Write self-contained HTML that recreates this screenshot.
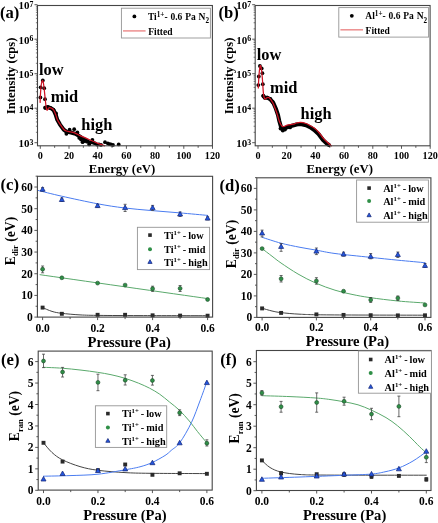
<!DOCTYPE html>
<html><head><meta charset="utf-8"><style>
html,body{margin:0;padding:0;background:#fff;width:438px;height:523px;overflow:hidden;}
svg{display:block;filter:blur(0.35px);}
text{font-family:"Liberation Serif",serif;font-weight:bold;}
</style></head><body>
<svg width="438" height="523" viewBox="0 0 438 523" font-family="Liberation Serif" font-weight="bold" fill="#000">
<line x1="40.3" y1="145.8" x2="40.3" y2="148.8" stroke="#454545" stroke-width="0.9" />
<line x1="54.65" y1="145.8" x2="54.65" y2="147.8" stroke="#454545" stroke-width="0.9" />
<line x1="69" y1="145.8" x2="69" y2="148.8" stroke="#454545" stroke-width="0.9" />
<line x1="83.35" y1="145.8" x2="83.35" y2="147.8" stroke="#454545" stroke-width="0.9" />
<line x1="97.7" y1="145.8" x2="97.7" y2="148.8" stroke="#454545" stroke-width="0.9" />
<line x1="112.05" y1="145.8" x2="112.05" y2="147.8" stroke="#454545" stroke-width="0.9" />
<line x1="126.4" y1="145.8" x2="126.4" y2="148.8" stroke="#454545" stroke-width="0.9" />
<line x1="140.75" y1="145.8" x2="140.75" y2="147.8" stroke="#454545" stroke-width="0.9" />
<line x1="155.1" y1="145.8" x2="155.1" y2="148.8" stroke="#454545" stroke-width="0.9" />
<line x1="169.45" y1="145.8" x2="169.45" y2="147.8" stroke="#454545" stroke-width="0.9" />
<line x1="183.8" y1="145.8" x2="183.8" y2="148.8" stroke="#454545" stroke-width="0.9" />
<line x1="198.15" y1="145.8" x2="198.15" y2="147.8" stroke="#454545" stroke-width="0.9" />
<line x1="212.5" y1="145.8" x2="212.5" y2="148.8" stroke="#454545" stroke-width="0.9" />
<line x1="37.5" y1="142.7" x2="34.5" y2="142.7" stroke="#454545" stroke-width="0.9" />
<line x1="37.5" y1="132.31" x2="35.9" y2="132.31" stroke="#454545" stroke-width="0.7" />
<line x1="37.5" y1="126.24" x2="35.9" y2="126.24" stroke="#454545" stroke-width="0.7" />
<line x1="37.5" y1="121.93" x2="35.9" y2="121.93" stroke="#454545" stroke-width="0.7" />
<line x1="37.5" y1="118.59" x2="35.9" y2="118.59" stroke="#454545" stroke-width="0.7" />
<line x1="37.5" y1="115.85" x2="35.9" y2="115.85" stroke="#454545" stroke-width="0.7" />
<line x1="37.5" y1="113.54" x2="35.9" y2="113.54" stroke="#454545" stroke-width="0.7" />
<line x1="37.5" y1="111.54" x2="35.9" y2="111.54" stroke="#454545" stroke-width="0.7" />
<line x1="37.5" y1="109.78" x2="35.9" y2="109.78" stroke="#454545" stroke-width="0.7" />
<line x1="37.5" y1="108.2" x2="34.5" y2="108.2" stroke="#454545" stroke-width="0.9" />
<line x1="37.5" y1="97.81" x2="35.9" y2="97.81" stroke="#454545" stroke-width="0.7" />
<line x1="37.5" y1="91.74" x2="35.9" y2="91.74" stroke="#454545" stroke-width="0.7" />
<line x1="37.5" y1="87.43" x2="35.9" y2="87.43" stroke="#454545" stroke-width="0.7" />
<line x1="37.5" y1="84.09" x2="35.9" y2="84.09" stroke="#454545" stroke-width="0.7" />
<line x1="37.5" y1="81.35" x2="35.9" y2="81.35" stroke="#454545" stroke-width="0.7" />
<line x1="37.5" y1="79.04" x2="35.9" y2="79.04" stroke="#454545" stroke-width="0.7" />
<line x1="37.5" y1="77.04" x2="35.9" y2="77.04" stroke="#454545" stroke-width="0.7" />
<line x1="37.5" y1="75.28" x2="35.9" y2="75.28" stroke="#454545" stroke-width="0.7" />
<line x1="37.5" y1="73.7" x2="34.5" y2="73.7" stroke="#454545" stroke-width="0.9" />
<line x1="37.5" y1="63.31" x2="35.9" y2="63.31" stroke="#454545" stroke-width="0.7" />
<line x1="37.5" y1="57.24" x2="35.9" y2="57.24" stroke="#454545" stroke-width="0.7" />
<line x1="37.5" y1="52.93" x2="35.9" y2="52.93" stroke="#454545" stroke-width="0.7" />
<line x1="37.5" y1="49.59" x2="35.9" y2="49.59" stroke="#454545" stroke-width="0.7" />
<line x1="37.5" y1="46.85" x2="35.9" y2="46.85" stroke="#454545" stroke-width="0.7" />
<line x1="37.5" y1="44.54" x2="35.9" y2="44.54" stroke="#454545" stroke-width="0.7" />
<line x1="37.5" y1="42.54" x2="35.9" y2="42.54" stroke="#454545" stroke-width="0.7" />
<line x1="37.5" y1="40.78" x2="35.9" y2="40.78" stroke="#454545" stroke-width="0.7" />
<line x1="37.5" y1="39.2" x2="34.5" y2="39.2" stroke="#454545" stroke-width="0.9" />
<line x1="37.5" y1="28.81" x2="35.9" y2="28.81" stroke="#454545" stroke-width="0.7" />
<line x1="37.5" y1="22.74" x2="35.9" y2="22.74" stroke="#454545" stroke-width="0.7" />
<line x1="37.5" y1="18.43" x2="35.9" y2="18.43" stroke="#454545" stroke-width="0.7" />
<line x1="37.5" y1="15.09" x2="35.9" y2="15.09" stroke="#454545" stroke-width="0.7" />
<line x1="37.5" y1="12.35" x2="35.9" y2="12.35" stroke="#454545" stroke-width="0.7" />
<line x1="37.5" y1="10.04" x2="35.9" y2="10.04" stroke="#454545" stroke-width="0.7" />
<line x1="37.5" y1="8.04" x2="35.9" y2="8.04" stroke="#454545" stroke-width="0.7" />
<line x1="37.5" y1="6.28" x2="35.9" y2="6.28" stroke="#454545" stroke-width="0.7" />
<line x1="37.5" y1="4.7" x2="34.5" y2="4.7" stroke="#454545" stroke-width="0.9" />
<polyline points="45.3,107.8 47.5,107.3 49.7,107.8 51.5,108.5 53.7,110.3 55.9,115.3 57.3,119.8 60,124.6 63.7,129.6 66.4,131.6 71,132.5 75.6,133.8 80.1,136.6 84,139.5 88,141.5" fill="none" stroke="#000" stroke-width="4.0" stroke-linejoin="round" stroke-linecap="round" />
<circle cx="42.8" cy="80.5" r="1.9" fill="#000"/>
<circle cx="40.6" cy="87.3" r="1.9" fill="#000"/>
<circle cx="44.2" cy="88.2" r="1.9" fill="#000"/>
<circle cx="40.4" cy="97.4" r="1.9" fill="#000"/>
<circle cx="45" cy="99.2" r="1.9" fill="#000"/>
<circle cx="45.3" cy="107.7" r="1.9" fill="#000"/>
<circle cx="47.9" cy="107" r="1.9" fill="#000"/>
<circle cx="50.6" cy="107.9" r="1.9" fill="#000"/>
<circle cx="53.4" cy="109.7" r="1.9" fill="#000"/>
<circle cx="56.1" cy="113.4" r="1.9" fill="#000"/>
<circle cx="69.6" cy="129.7" r="1.9" fill="#000"/>
<circle cx="74.2" cy="129.2" r="1.9" fill="#000"/>
<circle cx="66.4" cy="133.8" r="1.9" fill="#000"/>
<circle cx="77.4" cy="132.4" r="1.9" fill="#000"/>
<circle cx="79.3" cy="137.9" r="1.9" fill="#000"/>
<circle cx="81" cy="139.5" r="1.9" fill="#000"/>
<circle cx="82.6" cy="142.2" r="1.9" fill="#000"/>
<circle cx="84.5" cy="141" r="1.9" fill="#000"/>
<circle cx="87" cy="141.7" r="1.9" fill="#000"/>
<circle cx="89.2" cy="144.4" r="1.9" fill="#000"/>
<circle cx="90.5" cy="142.5" r="1.9" fill="#000"/>
<circle cx="92.4" cy="140" r="1.9" fill="#000"/>
<circle cx="93.5" cy="142.8" r="1.9" fill="#000"/>
<circle cx="95.2" cy="143.3" r="1.9" fill="#000"/>
<circle cx="97" cy="144.6" r="1.9" fill="#000"/>
<circle cx="99" cy="144.4" r="1.9" fill="#000"/>
<circle cx="101" cy="144.9" r="1.9" fill="#000"/>
<circle cx="105" cy="142.2" r="1.9" fill="#000"/>
<circle cx="107.8" cy="143.3" r="1.9" fill="#000"/>
<circle cx="109.5" cy="144.2" r="1.9" fill="#000"/>
<circle cx="111" cy="144.4" r="1.9" fill="#000"/>
<circle cx="113" cy="144.9" r="1.9" fill="#000"/>
<circle cx="118.7" cy="144.4" r="1.9" fill="#000"/>
<path d="M40.1,102.4 C40.18,100.67 40.4,94.98 40.6,92 C40.8,89.02 41,86.42 41.3,84.5 C41.6,82.58 42.05,80.75 42.4,80.5 C42.75,80.25 43.08,81.42 43.4,83 C43.72,84.58 43.98,87.17 44.3,90 C44.62,92.83 44.97,97 45.3,100 C45.63,103 46,106.28 46.3,108 C46.6,109.72 46.78,110.2 47.1,110.3 C47.42,110.4 47.77,109.05 48.2,108.6 C48.63,108.15 49.15,107.67 49.7,107.6 C50.25,107.53 50.83,107.8 51.5,108.2 C52.17,108.6 52.97,108.85 53.7,110 C54.43,111.15 55.3,113.5 55.9,115.1 C56.5,116.7 56.62,118.08 57.3,119.6 C57.98,121.12 58.93,122.6 60,124.2 C61.07,125.8 62.63,128.07 63.7,129.2 C64.77,130.33 65.18,130.53 66.4,131 C67.62,131.47 69.47,131.62 71,132 C72.53,132.38 74.08,132.7 75.6,133.3 C77.12,133.9 78.28,134.75 80.1,135.6 C81.92,136.45 84.52,137.53 86.5,138.4 C88.48,139.27 90.08,139.98 92,140.8 C93.92,141.62 95.92,142.47 98,143.3 C100.08,144.13 103.42,145.38 104.5,145.8" fill="none" stroke="#cf1424" stroke-width="1.25" stroke-linejoin="round" stroke-linecap="round" />
<rect x="37.5" y="5.5" width="174.9" height="140.3" fill="none" stroke="#454545" stroke-width="1.1"/>
<text x="40.3" y="158.6" font-size="10.2" text-anchor="middle" >0</text>
<text x="69" y="158.6" font-size="10.2" text-anchor="middle" >20</text>
<text x="97.7" y="158.6" font-size="10.2" text-anchor="middle" >40</text>
<text x="126.4" y="158.6" font-size="10.2" text-anchor="middle" >60</text>
<text x="155.1" y="158.6" font-size="10.2" text-anchor="middle" >80</text>
<text x="183.8" y="158.6" font-size="10.2" text-anchor="middle" >100</text>
<text x="212.5" y="158.6" font-size="10.2" text-anchor="middle" >120</text>
<text x="33.5" y="147" font-size="11.0" text-anchor="end" >10<tspan dy="-2.3" font-size="7.8">3</tspan></text>
<text x="33.5" y="112.5" font-size="11.0" text-anchor="end" >10<tspan dy="-2.3" font-size="7.8">4</tspan></text>
<text x="33.5" y="78" font-size="11.0" text-anchor="end" >10<tspan dy="-2.3" font-size="7.8">5</tspan></text>
<text x="33.5" y="43.5" font-size="11.0" text-anchor="end" >10<tspan dy="-2.3" font-size="7.8">6</tspan></text>
<text x="33.5" y="9" font-size="11.0" text-anchor="end" >10<tspan dy="-2.3" font-size="7.8">7</tspan></text>
<text x="122.1" y="172.6" font-size="12.8" text-anchor="middle" >Energy (eV)</text>
<text transform="translate(15.2,75.9) rotate(-90)" font-size="12.6" text-anchor="middle">Intensity (cps)</text>
<text x="0" y="18.1" font-size="16.6" text-anchor="start" >(a)</text>
<rect x="121.4" y="8.2" width="89" height="29.8" fill="#fff" stroke="#959595" stroke-width="0.9"/>
<circle cx="134.4" cy="16.4" r="1.9" fill="#000"/>
<text x="147.9" y="20.1" font-size="9.5" text-anchor="start" >Ti<tspan dy="-3.2" font-size="7.2">1+</tspan><tspan dy="3.2" word-spacing="0.5">- 0.6 Pa N</tspan><tspan dy="3.3" font-size="7.2">2</tspan></text>
<line x1="123" y1="30.9" x2="145.6" y2="30.9" stroke="#ec8f8f" stroke-width="1.5" />
<text x="148.2" y="34.6" font-size="9.5" text-anchor="start" >Fitted</text>
<text x="38.9" y="74.7" font-size="16.4" text-anchor="start" >low</text>
<text x="50.8" y="102.1" font-size="16.4" text-anchor="start" >mid</text>
<text x="81.3" y="130.2" font-size="16.4" text-anchor="start" >high</text>
<line x1="258" y1="145.8" x2="258" y2="148.8" stroke="#454545" stroke-width="0.9" />
<line x1="272.35" y1="145.8" x2="272.35" y2="147.8" stroke="#454545" stroke-width="0.9" />
<line x1="286.7" y1="145.8" x2="286.7" y2="148.8" stroke="#454545" stroke-width="0.9" />
<line x1="301.05" y1="145.8" x2="301.05" y2="147.8" stroke="#454545" stroke-width="0.9" />
<line x1="315.4" y1="145.8" x2="315.4" y2="148.8" stroke="#454545" stroke-width="0.9" />
<line x1="329.75" y1="145.8" x2="329.75" y2="147.8" stroke="#454545" stroke-width="0.9" />
<line x1="344.1" y1="145.8" x2="344.1" y2="148.8" stroke="#454545" stroke-width="0.9" />
<line x1="358.45" y1="145.8" x2="358.45" y2="147.8" stroke="#454545" stroke-width="0.9" />
<line x1="372.8" y1="145.8" x2="372.8" y2="148.8" stroke="#454545" stroke-width="0.9" />
<line x1="387.15" y1="145.8" x2="387.15" y2="147.8" stroke="#454545" stroke-width="0.9" />
<line x1="401.5" y1="145.8" x2="401.5" y2="148.8" stroke="#454545" stroke-width="0.9" />
<line x1="415.85" y1="145.8" x2="415.85" y2="147.8" stroke="#454545" stroke-width="0.9" />
<line x1="430.2" y1="145.8" x2="430.2" y2="148.8" stroke="#454545" stroke-width="0.9" />
<line x1="255.2" y1="142.7" x2="252.2" y2="142.7" stroke="#454545" stroke-width="0.9" />
<line x1="255.2" y1="132.31" x2="253.6" y2="132.31" stroke="#454545" stroke-width="0.7" />
<line x1="255.2" y1="126.24" x2="253.6" y2="126.24" stroke="#454545" stroke-width="0.7" />
<line x1="255.2" y1="121.93" x2="253.6" y2="121.93" stroke="#454545" stroke-width="0.7" />
<line x1="255.2" y1="118.59" x2="253.6" y2="118.59" stroke="#454545" stroke-width="0.7" />
<line x1="255.2" y1="115.85" x2="253.6" y2="115.85" stroke="#454545" stroke-width="0.7" />
<line x1="255.2" y1="113.54" x2="253.6" y2="113.54" stroke="#454545" stroke-width="0.7" />
<line x1="255.2" y1="111.54" x2="253.6" y2="111.54" stroke="#454545" stroke-width="0.7" />
<line x1="255.2" y1="109.78" x2="253.6" y2="109.78" stroke="#454545" stroke-width="0.7" />
<line x1="255.2" y1="108.2" x2="252.2" y2="108.2" stroke="#454545" stroke-width="0.9" />
<line x1="255.2" y1="97.81" x2="253.6" y2="97.81" stroke="#454545" stroke-width="0.7" />
<line x1="255.2" y1="91.74" x2="253.6" y2="91.74" stroke="#454545" stroke-width="0.7" />
<line x1="255.2" y1="87.43" x2="253.6" y2="87.43" stroke="#454545" stroke-width="0.7" />
<line x1="255.2" y1="84.09" x2="253.6" y2="84.09" stroke="#454545" stroke-width="0.7" />
<line x1="255.2" y1="81.35" x2="253.6" y2="81.35" stroke="#454545" stroke-width="0.7" />
<line x1="255.2" y1="79.04" x2="253.6" y2="79.04" stroke="#454545" stroke-width="0.7" />
<line x1="255.2" y1="77.04" x2="253.6" y2="77.04" stroke="#454545" stroke-width="0.7" />
<line x1="255.2" y1="75.28" x2="253.6" y2="75.28" stroke="#454545" stroke-width="0.7" />
<line x1="255.2" y1="73.7" x2="252.2" y2="73.7" stroke="#454545" stroke-width="0.9" />
<line x1="255.2" y1="63.31" x2="253.6" y2="63.31" stroke="#454545" stroke-width="0.7" />
<line x1="255.2" y1="57.24" x2="253.6" y2="57.24" stroke="#454545" stroke-width="0.7" />
<line x1="255.2" y1="52.93" x2="253.6" y2="52.93" stroke="#454545" stroke-width="0.7" />
<line x1="255.2" y1="49.59" x2="253.6" y2="49.59" stroke="#454545" stroke-width="0.7" />
<line x1="255.2" y1="46.85" x2="253.6" y2="46.85" stroke="#454545" stroke-width="0.7" />
<line x1="255.2" y1="44.54" x2="253.6" y2="44.54" stroke="#454545" stroke-width="0.7" />
<line x1="255.2" y1="42.54" x2="253.6" y2="42.54" stroke="#454545" stroke-width="0.7" />
<line x1="255.2" y1="40.78" x2="253.6" y2="40.78" stroke="#454545" stroke-width="0.7" />
<line x1="255.2" y1="39.2" x2="252.2" y2="39.2" stroke="#454545" stroke-width="0.9" />
<line x1="255.2" y1="28.81" x2="253.6" y2="28.81" stroke="#454545" stroke-width="0.7" />
<line x1="255.2" y1="22.74" x2="253.6" y2="22.74" stroke="#454545" stroke-width="0.7" />
<line x1="255.2" y1="18.43" x2="253.6" y2="18.43" stroke="#454545" stroke-width="0.7" />
<line x1="255.2" y1="15.09" x2="253.6" y2="15.09" stroke="#454545" stroke-width="0.7" />
<line x1="255.2" y1="12.35" x2="253.6" y2="12.35" stroke="#454545" stroke-width="0.7" />
<line x1="255.2" y1="10.04" x2="253.6" y2="10.04" stroke="#454545" stroke-width="0.7" />
<line x1="255.2" y1="8.04" x2="253.6" y2="8.04" stroke="#454545" stroke-width="0.7" />
<line x1="255.2" y1="6.28" x2="253.6" y2="6.28" stroke="#454545" stroke-width="0.7" />
<line x1="255.2" y1="4.7" x2="252.2" y2="4.7" stroke="#454545" stroke-width="0.9" />
<polyline points="263.3,96 265,97.8 267.4,97.8 270.3,99.2 273.4,103 275.8,108.5 278,115 279.3,121 281,127 282.8,129.8 285,128.3 287.4,127 292.9,125.5 296.5,124.5 300.5,124 306,125.2 310,127.2 314.2,130 318.5,134 322.8,139.8 326.5,143.4 329,145" fill="none" stroke="#000" stroke-width="4.0" stroke-linejoin="round" stroke-linecap="round" />
<circle cx="259.9" cy="66" r="1.9" fill="#000"/>
<circle cx="261.7" cy="68.4" r="1.9" fill="#000"/>
<circle cx="262.4" cy="73.2" r="1.9" fill="#000"/>
<circle cx="258.8" cy="76.5" r="1.9" fill="#000"/>
<circle cx="258.3" cy="85.1" r="1.9" fill="#000"/>
<circle cx="262.8" cy="84.2" r="1.9" fill="#000"/>
<circle cx="263.3" cy="95.7" r="1.9" fill="#000"/>
<circle cx="264.6" cy="97.6" r="1.9" fill="#000"/>
<circle cx="267.4" cy="97.6" r="1.9" fill="#000"/>
<circle cx="270.3" cy="99" r="1.9" fill="#000"/>
<circle cx="272.7" cy="101.9" r="1.9" fill="#000"/>
<circle cx="280.5" cy="128.5" r="1.9" fill="#000"/>
<circle cx="282.8" cy="130.6" r="1.9" fill="#000"/>
<circle cx="285" cy="129.5" r="1.9" fill="#000"/>
<circle cx="287.4" cy="127.4" r="1.9" fill="#000"/>
<circle cx="290.1" cy="127.4" r="1.9" fill="#000"/>
<path d="M258.3,88 C258.42,85.83 258.68,78.7 259,75 C259.32,71.3 259.8,66.8 260.2,65.8 C260.6,64.8 261.03,66.8 261.4,69 C261.77,71.2 262.1,75.33 262.4,79 C262.7,82.67 262.97,88.17 263.2,91 C263.43,93.83 263.5,94.65 263.8,96 C264.1,97.35 264.5,98.8 265,99.1 C265.5,99.4 266.23,98.08 266.8,97.8 C267.37,97.52 267.87,97.25 268.4,97.4 C268.93,97.55 269.27,97.8 270,98.7 C270.73,99.6 271.95,101.2 272.8,102.8 C273.65,104.4 274.33,106.32 275.1,108.3 C275.87,110.28 276.72,112.58 277.4,114.7 C278.08,116.82 278.45,119.1 279.2,121 C279.95,122.9 281.15,125.18 281.9,126.1 C282.65,127.02 282.78,126.65 283.7,126.5 C284.62,126.35 285.87,125.58 287.4,125.2 C288.93,124.82 291.38,124.57 292.9,124.2 C294.42,123.83 295.23,123.3 296.5,123 C297.77,122.7 298.92,122.32 300.5,122.4 C302.08,122.48 304.42,122.98 306,123.5 C307.58,124.02 308.63,124.75 310,125.5 C311.37,126.25 312.78,126.92 314.2,128 C315.62,129.08 316.97,130.27 318.5,132 C320.03,133.73 321.9,136.65 323.4,138.4 C324.9,140.15 326.17,141.27 327.5,142.5 C328.83,143.73 330.75,145.25 331.4,145.8" fill="none" stroke="#cf1424" stroke-width="1.25" stroke-linejoin="round" stroke-linecap="round" />
<rect x="255.2" y="5.5" width="174.9" height="140.3" fill="none" stroke="#454545" stroke-width="1.1"/>
<text x="258" y="158.6" font-size="10.2" text-anchor="middle" >0</text>
<text x="286.7" y="158.6" font-size="10.2" text-anchor="middle" >20</text>
<text x="315.4" y="158.6" font-size="10.2" text-anchor="middle" >40</text>
<text x="344.1" y="158.6" font-size="10.2" text-anchor="middle" >60</text>
<text x="372.8" y="158.6" font-size="10.2" text-anchor="middle" >80</text>
<text x="401.5" y="158.6" font-size="10.2" text-anchor="middle" >100</text>
<text x="430.2" y="158.6" font-size="10.2" text-anchor="middle" >120</text>
<text x="251.2" y="147" font-size="11.0" text-anchor="end" >10<tspan dy="-2.3" font-size="7.8">3</tspan></text>
<text x="251.2" y="112.5" font-size="11.0" text-anchor="end" >10<tspan dy="-2.3" font-size="7.8">4</tspan></text>
<text x="251.2" y="78" font-size="11.0" text-anchor="end" >10<tspan dy="-2.3" font-size="7.8">5</tspan></text>
<text x="251.2" y="43.5" font-size="11.0" text-anchor="end" >10<tspan dy="-2.3" font-size="7.8">6</tspan></text>
<text x="251.2" y="9" font-size="11.0" text-anchor="end" >10<tspan dy="-2.3" font-size="7.8">7</tspan></text>
<text x="339.8" y="172.6" font-size="12.8" text-anchor="middle" >Energy (eV)</text>
<text transform="translate(232.9,75.9) rotate(-90)" font-size="12.6" text-anchor="middle">Intensity (cps)</text>
<text x="218.5" y="18.1" font-size="16.6" text-anchor="start" >(b)</text>
<rect x="338.8" y="7.6" width="89.8" height="29.5" fill="#fff" stroke="#959595" stroke-width="0.9"/>
<circle cx="351.8" cy="15.8" r="1.9" fill="#000"/>
<text x="365.3" y="19.3" font-size="9.5" text-anchor="start" >Al<tspan dy="-3.2" font-size="7.2">1+</tspan><tspan dy="3.2" word-spacing="0.5">- 0.6 Pa N</tspan><tspan dy="3.3" font-size="7.2">2</tspan></text>
<line x1="340.4" y1="29.8" x2="363" y2="29.8" stroke="#ec8f8f" stroke-width="1.5" />
<text x="365.6" y="33.6" font-size="9.5" text-anchor="start" >Fitted</text>
<text x="256.8" y="60.4" font-size="16.4" text-anchor="start" >low</text>
<text x="270.1" y="93.2" font-size="16.4" text-anchor="start" >mid</text>
<text x="300.6" y="118.8" font-size="16.4" text-anchor="start" >high</text>
<line x1="42.6" y1="317.1" x2="42.6" y2="320.1" stroke="#454545" stroke-width="0.9" />
<line x1="70.1" y1="317.1" x2="70.1" y2="319.1" stroke="#454545" stroke-width="0.9" />
<line x1="97.6" y1="317.1" x2="97.6" y2="320.1" stroke="#454545" stroke-width="0.9" />
<line x1="125.1" y1="317.1" x2="125.1" y2="319.1" stroke="#454545" stroke-width="0.9" />
<line x1="152.6" y1="317.1" x2="152.6" y2="320.1" stroke="#454545" stroke-width="0.9" />
<line x1="180.1" y1="317.1" x2="180.1" y2="319.1" stroke="#454545" stroke-width="0.9" />
<line x1="207.6" y1="317.1" x2="207.6" y2="320.1" stroke="#454545" stroke-width="0.9" />
<line x1="37.4" y1="317.1" x2="34.4" y2="317.1" stroke="#454545" stroke-width="0.9" />
<line x1="37.4" y1="306.26" x2="35.6" y2="306.26" stroke="#454545" stroke-width="0.9" />
<line x1="37.4" y1="295.42" x2="34.4" y2="295.42" stroke="#454545" stroke-width="0.9" />
<line x1="37.4" y1="284.58" x2="35.6" y2="284.58" stroke="#454545" stroke-width="0.9" />
<line x1="37.4" y1="273.74" x2="34.4" y2="273.74" stroke="#454545" stroke-width="0.9" />
<line x1="37.4" y1="262.9" x2="35.6" y2="262.9" stroke="#454545" stroke-width="0.9" />
<line x1="37.4" y1="252.06" x2="34.4" y2="252.06" stroke="#454545" stroke-width="0.9" />
<line x1="37.4" y1="241.22" x2="35.6" y2="241.22" stroke="#454545" stroke-width="0.9" />
<line x1="37.4" y1="230.38" x2="34.4" y2="230.38" stroke="#454545" stroke-width="0.9" />
<line x1="37.4" y1="219.54" x2="35.6" y2="219.54" stroke="#454545" stroke-width="0.9" />
<line x1="37.4" y1="208.7" x2="34.4" y2="208.7" stroke="#454545" stroke-width="0.9" />
<line x1="37.4" y1="197.86" x2="35.6" y2="197.86" stroke="#454545" stroke-width="0.9" />
<line x1="37.4" y1="187.02" x2="34.4" y2="187.02" stroke="#454545" stroke-width="0.9" />
<line x1="37.4" y1="176.18" x2="35.6" y2="176.18" stroke="#454545" stroke-width="0.9" />
<path d="M42.6,307.6 C44.17,308.23 48.82,310.45 52,311.4 C55.18,312.35 57.03,312.72 61.7,313.3 C66.37,313.88 73.62,314.55 80,314.9 C86.38,315.25 90,315.28 100,315.4 C110,315.52 122.07,315.55 140,315.6 C157.93,315.65 196.33,315.68 207.6,315.7" fill="none" stroke="#444" stroke-width="1.0" stroke-linejoin="round" stroke-linecap="round" />
<path d="M40,274.7 C67.93,278.68 179.67,294.62 207.6,298.6" fill="none" stroke="#5aa96c" stroke-width="1.0" stroke-linejoin="round" stroke-linecap="round" />
<path d="M38,190.4 C41.95,191.37 51.75,193.97 61.7,196.2 C71.65,198.43 87.32,201.85 97.7,203.8 C108.08,205.75 114.95,206.77 124,207.9 C133.05,209.03 142.67,209.77 152,210.6 C161.33,211.43 170.73,212.1 180,212.9 C189.27,213.7 203,214.98 207.6,215.4" fill="none" stroke="#4a7cf0" stroke-width="1.0" stroke-linejoin="round" stroke-linecap="round" />
<rect x="40.65" y="305.65" width="3.9" height="3.9" fill="#2a2a2a"/>
<rect x="59.9" y="311.85" width="3.9" height="3.9" fill="#2a2a2a"/>
<rect x="95.65" y="312.85" width="3.9" height="3.9" fill="#2a2a2a"/>
<rect x="123.15" y="312.85" width="3.9" height="3.9" fill="#2a2a2a"/>
<rect x="150.65" y="313.35" width="3.9" height="3.9" fill="#2a2a2a"/>
<rect x="178.15" y="313.65" width="3.9" height="3.9" fill="#2a2a2a"/>
<rect x="205.65" y="313.75" width="3.9" height="3.9" fill="#2a2a2a"/>
<line x1="42.6" y1="266" x2="42.6" y2="272.8" stroke="#444" stroke-width="0.8" />
<line x1="41.1" y1="266" x2="44.1" y2="266" stroke="#444" stroke-width="0.8" />
<line x1="41.1" y1="272.8" x2="44.1" y2="272.8" stroke="#444" stroke-width="0.8" />
<circle cx="42.6" cy="269.2" r="1.95" fill="#2f8f47" stroke="#1f4a2a" stroke-width="0.6"/>
<circle cx="61.85" cy="277.8" r="1.95" fill="#2f8f47" stroke="#1f4a2a" stroke-width="0.6"/>
<circle cx="97.6" cy="283.1" r="1.95" fill="#2f8f47" stroke="#1f4a2a" stroke-width="0.6"/>
<circle cx="125.1" cy="285.1" r="1.95" fill="#2f8f47" stroke="#1f4a2a" stroke-width="0.6"/>
<line x1="152.6" y1="286.2" x2="152.6" y2="291.4" stroke="#444" stroke-width="0.8" />
<line x1="151.1" y1="286.2" x2="154.1" y2="286.2" stroke="#444" stroke-width="0.8" />
<line x1="151.1" y1="291.4" x2="154.1" y2="291.4" stroke="#444" stroke-width="0.8" />
<circle cx="152.6" cy="288.7" r="1.95" fill="#2f8f47" stroke="#1f4a2a" stroke-width="0.6"/>
<line x1="180.1" y1="285.5" x2="180.1" y2="291.5" stroke="#444" stroke-width="0.8" />
<line x1="178.6" y1="285.5" x2="181.6" y2="285.5" stroke="#444" stroke-width="0.8" />
<line x1="178.6" y1="291.5" x2="181.6" y2="291.5" stroke="#444" stroke-width="0.8" />
<circle cx="180.1" cy="288.4" r="1.95" fill="#2f8f47" stroke="#1f4a2a" stroke-width="0.6"/>
<circle cx="207.6" cy="299.5" r="1.95" fill="#2f8f47" stroke="#1f4a2a" stroke-width="0.6"/>
<line x1="42.6" y1="187.6" x2="42.6" y2="191.2" stroke="#444" stroke-width="0.8" />
<line x1="41.1" y1="187.6" x2="44.1" y2="187.6" stroke="#444" stroke-width="0.8" />
<line x1="41.1" y1="191.2" x2="44.1" y2="191.2" stroke="#444" stroke-width="0.8" />
<path d="M42.6,186.7 L45.1,191.2 L40.1,191.2Z" fill="#2356e0" stroke="#182a78" stroke-width="0.75" stroke-linejoin="round"/>
<line x1="61.85" y1="198" x2="61.85" y2="201.5" stroke="#444" stroke-width="0.8" />
<line x1="60.35" y1="198" x2="63.35" y2="198" stroke="#444" stroke-width="0.8" />
<line x1="60.35" y1="201.5" x2="63.35" y2="201.5" stroke="#444" stroke-width="0.8" />
<path d="M61.85,197 L64.35,201.5 L59.35,201.5Z" fill="#2356e0" stroke="#182a78" stroke-width="0.75" stroke-linejoin="round"/>
<line x1="97.6" y1="204.3" x2="97.6" y2="207.3" stroke="#444" stroke-width="0.8" />
<line x1="96.1" y1="204.3" x2="99.1" y2="204.3" stroke="#444" stroke-width="0.8" />
<line x1="96.1" y1="207.3" x2="99.1" y2="207.3" stroke="#444" stroke-width="0.8" />
<path d="M97.6,203.1 L100.1,207.6 L95.1,207.6Z" fill="#2356e0" stroke="#182a78" stroke-width="0.75" stroke-linejoin="round"/>
<line x1="125.1" y1="204.3" x2="125.1" y2="211.5" stroke="#444" stroke-width="0.8" />
<line x1="123.6" y1="204.3" x2="126.6" y2="204.3" stroke="#444" stroke-width="0.8" />
<line x1="123.6" y1="211.5" x2="126.6" y2="211.5" stroke="#444" stroke-width="0.8" />
<path d="M125.1,205.1 L127.6,209.6 L122.6,209.6Z" fill="#2356e0" stroke="#182a78" stroke-width="0.75" stroke-linejoin="round"/>
<line x1="152.6" y1="205.4" x2="152.6" y2="210.4" stroke="#444" stroke-width="0.8" />
<line x1="151.1" y1="205.4" x2="154.1" y2="205.4" stroke="#444" stroke-width="0.8" />
<line x1="151.1" y1="210.4" x2="154.1" y2="210.4" stroke="#444" stroke-width="0.8" />
<path d="M152.6,205.1 L155.1,209.6 L150.1,209.6Z" fill="#2356e0" stroke="#182a78" stroke-width="0.75" stroke-linejoin="round"/>
<line x1="180.1" y1="212" x2="180.1" y2="216.5" stroke="#444" stroke-width="0.8" />
<line x1="178.6" y1="212" x2="181.6" y2="212" stroke="#444" stroke-width="0.8" />
<line x1="178.6" y1="216.5" x2="181.6" y2="216.5" stroke="#444" stroke-width="0.8" />
<path d="M180.1,211.5 L182.6,216 L177.6,216Z" fill="#2356e0" stroke="#182a78" stroke-width="0.75" stroke-linejoin="round"/>
<line x1="207.6" y1="216.8" x2="207.6" y2="219.9" stroke="#444" stroke-width="0.8" />
<line x1="206.1" y1="216.8" x2="209.1" y2="216.8" stroke="#444" stroke-width="0.8" />
<line x1="206.1" y1="219.9" x2="209.1" y2="219.9" stroke="#444" stroke-width="0.8" />
<path d="M207.6,215.6 L210.1,220.1 L205.1,220.1Z" fill="#2356e0" stroke="#182a78" stroke-width="0.75" stroke-linejoin="round"/>
<rect x="37.4" y="176.3" width="175.2" height="140.8" fill="none" stroke="#454545" stroke-width="1.1"/>
<text x="42.6" y="331.8" font-size="11.5" text-anchor="middle" >0.0</text>
<text x="97.6" y="331.8" font-size="11.5" text-anchor="middle" >0.2</text>
<text x="152.6" y="331.8" font-size="11.5" text-anchor="middle" >0.4</text>
<text x="207.6" y="331.8" font-size="11.5" text-anchor="middle" >0.6</text>
<text x="32.8" y="321.1" font-size="11.5" text-anchor="end" >0</text>
<text x="32.8" y="299.42" font-size="11.5" text-anchor="end" >10</text>
<text x="32.8" y="277.74" font-size="11.5" text-anchor="end" >20</text>
<text x="32.8" y="256.06" font-size="11.5" text-anchor="end" >30</text>
<text x="32.8" y="234.38" font-size="11.5" text-anchor="end" >40</text>
<text x="32.8" y="212.7" font-size="11.5" text-anchor="end" >50</text>
<text x="32.8" y="191.02" font-size="11.5" text-anchor="end" >60</text>
<text x="129.2" y="347.1" font-size="14.6" text-anchor="middle" >Pressure (Pa)</text>
<text transform="translate(14.6,241) rotate(-90)" font-size="13.6" text-anchor="middle">E<tspan dy="3.6" font-size="8.6">dir</tspan><tspan dy="-3.6"> (eV)</tspan></text>
<text x="0.5" y="189.8" font-size="16.6" text-anchor="start" >(c)</text>
<rect x="137.4" y="227.3" width="72.2" height="42.3" fill="#fff" stroke="#959595" stroke-width="0.9"/>
<rect x="148.2" y="233.3" width="3.6" height="3.6" fill="#2a2a2a"/>
<text x="164" y="238.9" font-size="10.3" text-anchor="start" >Ti<tspan dy="-4.0" font-size="6.8">1+</tspan><tspan dy="4.0" word-spacing="-0.6"> - low</tspan></text>
<circle cx="150" cy="249.3" r="2.0" fill="#2f8f47"/>
<text x="164" y="253.1" font-size="10.3" text-anchor="start" >Ti<tspan dy="-4.0" font-size="6.8">1+</tspan><tspan dy="4.0" word-spacing="-0.6"> - mid</tspan></text>
<path d="M150,259.63 L152.1,263.41 L147.9,263.41Z" fill="#2356e0" stroke="#182a78" stroke-width="0.75" stroke-linejoin="round"/>
<text x="164" y="265.7" font-size="10.3" text-anchor="start" >Ti<tspan dy="-4.0" font-size="6.8">1+</tspan><tspan dy="4.0" word-spacing="-0.6"> - high</tspan></text>
<line x1="262.1" y1="317.4" x2="262.1" y2="320.4" stroke="#454545" stroke-width="0.9" />
<line x1="289.25" y1="317.4" x2="289.25" y2="319.4" stroke="#454545" stroke-width="0.9" />
<line x1="316.4" y1="317.4" x2="316.4" y2="320.4" stroke="#454545" stroke-width="0.9" />
<line x1="343.55" y1="317.4" x2="343.55" y2="319.4" stroke="#454545" stroke-width="0.9" />
<line x1="370.7" y1="317.4" x2="370.7" y2="320.4" stroke="#454545" stroke-width="0.9" />
<line x1="397.85" y1="317.4" x2="397.85" y2="319.4" stroke="#454545" stroke-width="0.9" />
<line x1="425" y1="317.4" x2="425" y2="320.4" stroke="#454545" stroke-width="0.9" />
<line x1="256.8" y1="317.4" x2="253.8" y2="317.4" stroke="#454545" stroke-width="0.9" />
<line x1="256.8" y1="306.65" x2="255" y2="306.65" stroke="#454545" stroke-width="0.9" />
<line x1="256.8" y1="295.9" x2="253.8" y2="295.9" stroke="#454545" stroke-width="0.9" />
<line x1="256.8" y1="285.15" x2="255" y2="285.15" stroke="#454545" stroke-width="0.9" />
<line x1="256.8" y1="274.4" x2="253.8" y2="274.4" stroke="#454545" stroke-width="0.9" />
<line x1="256.8" y1="263.65" x2="255" y2="263.65" stroke="#454545" stroke-width="0.9" />
<line x1="256.8" y1="252.9" x2="253.8" y2="252.9" stroke="#454545" stroke-width="0.9" />
<line x1="256.8" y1="242.15" x2="255" y2="242.15" stroke="#454545" stroke-width="0.9" />
<line x1="256.8" y1="231.4" x2="253.8" y2="231.4" stroke="#454545" stroke-width="0.9" />
<line x1="256.8" y1="220.65" x2="255" y2="220.65" stroke="#454545" stroke-width="0.9" />
<line x1="256.8" y1="209.9" x2="253.8" y2="209.9" stroke="#454545" stroke-width="0.9" />
<line x1="256.8" y1="199.15" x2="255" y2="199.15" stroke="#454545" stroke-width="0.9" />
<line x1="256.8" y1="188.4" x2="253.8" y2="188.4" stroke="#454545" stroke-width="0.9" />
<line x1="256.8" y1="177.65" x2="255" y2="177.65" stroke="#454545" stroke-width="0.9" />
<path d="M262.1,308.2 C263.75,308.67 268.85,310.27 272,311 C275.15,311.73 276.33,312.07 281,312.6 C285.67,313.13 291.83,313.82 300,314.2 C308.17,314.58 309.17,314.73 330,314.9 C350.83,315.07 409.17,315.15 425,315.2" fill="none" stroke="#444" stroke-width="1.0" stroke-linejoin="round" stroke-linecap="round" />
<path d="M262.1,248.6 C263.75,249.87 268.85,253.8 272,256.2 C275.15,258.6 276.67,260.03 281,263 C285.33,265.97 292.17,270.63 298,274 C303.83,277.37 309.83,280.5 316,283.2 C322.17,285.9 329,288.33 335,290.2 C341,292.07 346.17,293.17 352,294.4 C357.83,295.63 362.33,296.5 370,297.6 C377.67,298.7 388.83,300.1 398,301 C407.17,301.9 420.5,302.67 425,303" fill="none" stroke="#5aa96c" stroke-width="1.0" stroke-linejoin="round" stroke-linecap="round" />
<path d="M262.1,237.3 C265.25,238.28 274.68,241.53 281,243.2 C287.32,244.87 294.17,246.15 300,247.3 C305.83,248.45 310.17,249.07 316,250.1 C321.83,251.13 326,252.3 335,253.5 C344,254.7 359.5,256.18 370,257.3 C380.5,258.42 388.83,259.3 398,260.2 C407.17,261.1 420.5,262.28 425,262.7" fill="none" stroke="#4a7cf0" stroke-width="1.0" stroke-linejoin="round" stroke-linecap="round" />
<rect x="260.15" y="306.45" width="3.9" height="3.9" fill="#2a2a2a"/>
<rect x="279.16" y="310.95" width="3.9" height="3.9" fill="#2a2a2a"/>
<rect x="314.45" y="312.45" width="3.9" height="3.9" fill="#2a2a2a"/>
<rect x="341.6" y="312.95" width="3.9" height="3.9" fill="#2a2a2a"/>
<rect x="368.75" y="313.25" width="3.9" height="3.9" fill="#2a2a2a"/>
<rect x="395.9" y="313.45" width="3.9" height="3.9" fill="#2a2a2a"/>
<rect x="423.05" y="313.35" width="3.9" height="3.9" fill="#2a2a2a"/>
<circle cx="262.1" cy="248.6" r="1.95" fill="#2f8f47" stroke="#1f4a2a" stroke-width="0.6"/>
<line x1="281.11" y1="275.5" x2="281.11" y2="282" stroke="#444" stroke-width="0.8" />
<line x1="279.61" y1="275.5" x2="282.61" y2="275.5" stroke="#444" stroke-width="0.8" />
<line x1="279.61" y1="282" x2="282.61" y2="282" stroke="#444" stroke-width="0.8" />
<circle cx="281.11" cy="278.8" r="1.95" fill="#2f8f47" stroke="#1f4a2a" stroke-width="0.6"/>
<line x1="316.4" y1="277.7" x2="316.4" y2="284.2" stroke="#444" stroke-width="0.8" />
<line x1="314.9" y1="277.7" x2="317.9" y2="277.7" stroke="#444" stroke-width="0.8" />
<line x1="314.9" y1="284.2" x2="317.9" y2="284.2" stroke="#444" stroke-width="0.8" />
<circle cx="316.4" cy="280.9" r="1.95" fill="#2f8f47" stroke="#1f4a2a" stroke-width="0.6"/>
<circle cx="343.55" cy="291.2" r="1.95" fill="#2f8f47" stroke="#1f4a2a" stroke-width="0.6"/>
<line x1="370.7" y1="297.5" x2="370.7" y2="302.4" stroke="#444" stroke-width="0.8" />
<line x1="369.2" y1="297.5" x2="372.2" y2="297.5" stroke="#444" stroke-width="0.8" />
<line x1="369.2" y1="302.4" x2="372.2" y2="302.4" stroke="#444" stroke-width="0.8" />
<circle cx="370.7" cy="299.9" r="1.95" fill="#2f8f47" stroke="#1f4a2a" stroke-width="0.6"/>
<line x1="397.85" y1="296" x2="397.85" y2="300.5" stroke="#444" stroke-width="0.8" />
<line x1="396.35" y1="296" x2="399.35" y2="296" stroke="#444" stroke-width="0.8" />
<line x1="396.35" y1="300.5" x2="399.35" y2="300.5" stroke="#444" stroke-width="0.8" />
<circle cx="397.85" cy="298.1" r="1.95" fill="#2f8f47" stroke="#1f4a2a" stroke-width="0.6"/>
<circle cx="425" cy="304.9" r="1.95" fill="#2f8f47" stroke="#1f4a2a" stroke-width="0.6"/>
<line x1="262.1" y1="230.1" x2="262.1" y2="236.9" stroke="#444" stroke-width="0.8" />
<line x1="260.6" y1="230.1" x2="263.6" y2="230.1" stroke="#444" stroke-width="0.8" />
<line x1="260.6" y1="236.9" x2="263.6" y2="236.9" stroke="#444" stroke-width="0.8" />
<path d="M262.1,230.5 L264.6,235 L259.6,235Z" fill="#2356e0" stroke="#182a78" stroke-width="0.75" stroke-linejoin="round"/>
<line x1="281.11" y1="243.5" x2="281.11" y2="251.3" stroke="#444" stroke-width="0.8" />
<line x1="279.61" y1="243.5" x2="282.61" y2="243.5" stroke="#444" stroke-width="0.8" />
<line x1="279.61" y1="251.3" x2="282.61" y2="251.3" stroke="#444" stroke-width="0.8" />
<path d="M281.11,243.9 L283.61,248.4 L278.61,248.4Z" fill="#2356e0" stroke="#182a78" stroke-width="0.75" stroke-linejoin="round"/>
<line x1="316.4" y1="248" x2="316.4" y2="254.6" stroke="#444" stroke-width="0.8" />
<line x1="314.9" y1="248" x2="317.9" y2="248" stroke="#444" stroke-width="0.8" />
<line x1="314.9" y1="254.6" x2="317.9" y2="254.6" stroke="#444" stroke-width="0.8" />
<path d="M316.4,248.6 L318.9,253.1 L313.9,253.1Z" fill="#2356e0" stroke="#182a78" stroke-width="0.75" stroke-linejoin="round"/>
<line x1="343.55" y1="252.2" x2="343.55" y2="256.2" stroke="#444" stroke-width="0.8" />
<line x1="342.05" y1="252.2" x2="345.05" y2="252.2" stroke="#444" stroke-width="0.8" />
<line x1="342.05" y1="256.2" x2="345.05" y2="256.2" stroke="#444" stroke-width="0.8" />
<path d="M343.55,251.5 L346.05,256 L341.05,256Z" fill="#2356e0" stroke="#182a78" stroke-width="0.75" stroke-linejoin="round"/>
<line x1="370.7" y1="253.5" x2="370.7" y2="258.8" stroke="#444" stroke-width="0.8" />
<line x1="369.2" y1="253.5" x2="372.2" y2="253.5" stroke="#444" stroke-width="0.8" />
<line x1="369.2" y1="258.8" x2="372.2" y2="258.8" stroke="#444" stroke-width="0.8" />
<path d="M370.7,253.8 L373.2,258.3 L368.2,258.3Z" fill="#2356e0" stroke="#182a78" stroke-width="0.75" stroke-linejoin="round"/>
<line x1="397.85" y1="252" x2="397.85" y2="257.5" stroke="#444" stroke-width="0.8" />
<line x1="396.35" y1="252" x2="399.35" y2="252" stroke="#444" stroke-width="0.8" />
<line x1="396.35" y1="257.5" x2="399.35" y2="257.5" stroke="#444" stroke-width="0.8" />
<path d="M397.85,252 L400.35,256.5 L395.35,256.5Z" fill="#2356e0" stroke="#182a78" stroke-width="0.75" stroke-linejoin="round"/>
<line x1="425" y1="263.5" x2="425" y2="267.5" stroke="#444" stroke-width="0.8" />
<line x1="423.5" y1="263.5" x2="426.5" y2="263.5" stroke="#444" stroke-width="0.8" />
<line x1="423.5" y1="267.5" x2="426.5" y2="267.5" stroke="#444" stroke-width="0.8" />
<path d="M425,262.9 L427.5,267.4 L422.5,267.4Z" fill="#2356e0" stroke="#182a78" stroke-width="0.75" stroke-linejoin="round"/>
<rect x="256.8" y="177.8" width="174.1" height="139.6" fill="none" stroke="#454545" stroke-width="1.1"/>
<text x="262.1" y="331.3" font-size="11.5" text-anchor="middle" >0.0</text>
<text x="316.4" y="331.3" font-size="11.5" text-anchor="middle" >0.2</text>
<text x="370.7" y="331.3" font-size="11.5" text-anchor="middle" >0.4</text>
<text x="425" y="331.3" font-size="11.5" text-anchor="middle" >0.6</text>
<text x="252.2" y="321.4" font-size="11.5" text-anchor="end" >0</text>
<text x="252.2" y="299.9" font-size="11.5" text-anchor="end" >10</text>
<text x="252.2" y="278.4" font-size="11.5" text-anchor="end" >20</text>
<text x="252.2" y="256.9" font-size="11.5" text-anchor="end" >30</text>
<text x="252.2" y="235.4" font-size="11.5" text-anchor="end" >40</text>
<text x="252.2" y="213.9" font-size="11.5" text-anchor="end" >50</text>
<text x="252.2" y="192.4" font-size="11.5" text-anchor="end" >60</text>
<text x="347.5" y="346.3" font-size="14.6" text-anchor="middle" >Pressure (Pa)</text>
<text transform="translate(235.8,244) rotate(-90)" font-size="13.6" text-anchor="middle">E<tspan dy="3.6" font-size="8.6">dir</tspan><tspan dy="-3.6"> (eV)</tspan></text>
<text x="219.4" y="191" font-size="16.6" text-anchor="start" >(d)</text>
<rect x="356.6" y="180" width="71.8" height="42.2" fill="#fff" stroke="#959595" stroke-width="0.9"/>
<rect x="367.3" y="186.3" width="3.6" height="3.6" fill="#2a2a2a"/>
<text x="383.2" y="191.9" font-size="10.3" text-anchor="start" >Al<tspan dy="-4.0" font-size="6.8">1+</tspan><tspan dy="4.0" word-spacing="-0.6"> - low</tspan></text>
<circle cx="369.1" cy="201.1" r="2.0" fill="#2f8f47"/>
<text x="383.2" y="204.9" font-size="10.3" text-anchor="start" >Al<tspan dy="-4.0" font-size="6.8">1+</tspan><tspan dy="4.0" word-spacing="-0.6"> - mid</tspan></text>
<path d="M369.1,212.93 L371.2,216.71 L367,216.71Z" fill="#2356e0" stroke="#182a78" stroke-width="0.75" stroke-linejoin="round"/>
<text x="383.2" y="219" font-size="10.3" text-anchor="start" >Al<tspan dy="-4.0" font-size="6.8">1+</tspan><tspan dy="4.0" word-spacing="-0.6"> - high</tspan></text>
<line x1="43.5" y1="490.1" x2="43.5" y2="493.1" stroke="#454545" stroke-width="0.9" />
<line x1="70.73" y1="490.1" x2="70.73" y2="492.1" stroke="#454545" stroke-width="0.9" />
<line x1="97.96" y1="490.1" x2="97.96" y2="493.1" stroke="#454545" stroke-width="0.9" />
<line x1="125.19" y1="490.1" x2="125.19" y2="492.1" stroke="#454545" stroke-width="0.9" />
<line x1="152.42" y1="490.1" x2="152.42" y2="493.1" stroke="#454545" stroke-width="0.9" />
<line x1="179.65" y1="490.1" x2="179.65" y2="492.1" stroke="#454545" stroke-width="0.9" />
<line x1="206.88" y1="490.1" x2="206.88" y2="493.1" stroke="#454545" stroke-width="0.9" />
<line x1="38.2" y1="490.3" x2="35.2" y2="490.3" stroke="#454545" stroke-width="0.9" />
<line x1="38.2" y1="479.57" x2="36.4" y2="479.57" stroke="#454545" stroke-width="0.9" />
<line x1="38.2" y1="468.85" x2="35.2" y2="468.85" stroke="#454545" stroke-width="0.9" />
<line x1="38.2" y1="458.12" x2="36.4" y2="458.12" stroke="#454545" stroke-width="0.9" />
<line x1="38.2" y1="447.4" x2="35.2" y2="447.4" stroke="#454545" stroke-width="0.9" />
<line x1="38.2" y1="436.68" x2="36.4" y2="436.68" stroke="#454545" stroke-width="0.9" />
<line x1="38.2" y1="425.95" x2="35.2" y2="425.95" stroke="#454545" stroke-width="0.9" />
<line x1="38.2" y1="415.23" x2="36.4" y2="415.23" stroke="#454545" stroke-width="0.9" />
<line x1="38.2" y1="404.5" x2="35.2" y2="404.5" stroke="#454545" stroke-width="0.9" />
<line x1="38.2" y1="393.78" x2="36.4" y2="393.78" stroke="#454545" stroke-width="0.9" />
<line x1="38.2" y1="383.05" x2="35.2" y2="383.05" stroke="#454545" stroke-width="0.9" />
<line x1="38.2" y1="372.33" x2="36.4" y2="372.33" stroke="#454545" stroke-width="0.9" />
<line x1="38.2" y1="361.6" x2="35.2" y2="361.6" stroke="#454545" stroke-width="0.9" />
<path d="M43.5,442.8 C44.92,444.42 48.85,449.67 52,452.5 C55.15,455.33 57.73,457.45 62.4,459.8 C67.07,462.15 74.07,464.85 80,466.6 C85.93,468.35 90.5,469.3 98,470.3 C105.5,471.3 116.33,472.1 125,472.6 C133.67,473.1 136.37,473.13 150,473.3 C163.63,473.47 197.33,473.55 206.8,473.6" fill="none" stroke="#444" stroke-width="1.0" stroke-linejoin="round" stroke-linecap="round" />
<path d="M43.5,367.3 C46.58,367.45 55.75,367.73 62,368.2 C68.25,368.67 75.08,369.42 81,370.1 C86.92,370.78 92.5,371.53 97.5,372.3 C102.5,373.07 106.42,373.7 111,374.7 C115.58,375.7 120.4,376.88 125,378.3 C129.6,379.72 134.5,381.55 138.6,383.2 C142.7,384.85 146.08,386.37 149.6,388.2 C153.12,390.03 156.37,391.88 159.7,394.2 C163.03,396.52 166.3,399.42 169.6,402.1 C172.9,404.78 176.22,407.15 179.5,410.3 C182.78,413.45 186.28,417.43 189.3,421 C192.32,424.57 194.68,428.07 197.6,431.7 C200.52,435.33 205.27,440.95 206.8,442.8" fill="none" stroke="#5aa96c" stroke-width="1.0" stroke-linejoin="round" stroke-linecap="round" />
<path d="M43.5,476.2 C47.92,476.1 60.92,475.93 70,475.6 C79.08,475.27 88.83,475.17 98,474.2 C107.17,473.23 118,471.03 125,469.8 C132,468.57 135.5,468 140,466.8 C144.5,465.6 147.83,464.48 152,462.6 C156.17,460.72 161.8,457.53 165,455.5 C168.2,453.47 168.7,452.58 171.2,450.4 C173.7,448.22 176.62,447.07 180,442.4 C183.38,437.73 188.17,429.33 191.5,422.4 C194.83,415.47 197.5,407.4 200,400.8 C202.5,394.2 205.42,385.8 206.5,382.8" fill="none" stroke="#4a7cf0" stroke-width="1.0" stroke-linejoin="round" stroke-linecap="round" />
<rect x="41.55" y="440.85" width="3.9" height="3.9" fill="#2a2a2a"/>
<rect x="60.61" y="459.65" width="3.9" height="3.9" fill="#2a2a2a"/>
<rect x="96.01" y="468.25" width="3.9" height="3.9" fill="#2a2a2a"/>
<rect x="123.24" y="462.55" width="3.9" height="3.9" fill="#2a2a2a"/>
<rect x="150.47" y="472.85" width="3.9" height="3.9" fill="#2a2a2a"/>
<rect x="177.7" y="471.35" width="3.9" height="3.9" fill="#2a2a2a"/>
<rect x="204.93" y="471.85" width="3.9" height="3.9" fill="#2a2a2a"/>
<line x1="43.5" y1="354.2" x2="43.5" y2="367.6" stroke="#444" stroke-width="0.8" />
<line x1="42" y1="354.2" x2="45" y2="354.2" stroke="#444" stroke-width="0.8" />
<line x1="42" y1="367.6" x2="45" y2="367.6" stroke="#444" stroke-width="0.8" />
<circle cx="43.5" cy="361" r="1.95" fill="#2f8f47" stroke="#1f4a2a" stroke-width="0.6"/>
<line x1="62.56" y1="367.4" x2="62.56" y2="377" stroke="#444" stroke-width="0.8" />
<line x1="61.06" y1="367.4" x2="64.06" y2="367.4" stroke="#444" stroke-width="0.8" />
<line x1="61.06" y1="377" x2="64.06" y2="377" stroke="#444" stroke-width="0.8" />
<circle cx="62.56" cy="372" r="1.95" fill="#2f8f47" stroke="#1f4a2a" stroke-width="0.6"/>
<line x1="97.96" y1="374.2" x2="97.96" y2="390.7" stroke="#444" stroke-width="0.8" />
<line x1="96.46" y1="374.2" x2="99.46" y2="374.2" stroke="#444" stroke-width="0.8" />
<line x1="96.46" y1="390.7" x2="99.46" y2="390.7" stroke="#444" stroke-width="0.8" />
<circle cx="97.96" cy="382.4" r="1.95" fill="#2f8f47" stroke="#1f4a2a" stroke-width="0.6"/>
<line x1="125.19" y1="374.8" x2="125.19" y2="385" stroke="#444" stroke-width="0.8" />
<line x1="123.69" y1="374.8" x2="126.69" y2="374.8" stroke="#444" stroke-width="0.8" />
<line x1="123.69" y1="385" x2="126.69" y2="385" stroke="#444" stroke-width="0.8" />
<circle cx="125.19" cy="380.2" r="1.95" fill="#2f8f47" stroke="#1f4a2a" stroke-width="0.6"/>
<line x1="152.42" y1="375.4" x2="152.42" y2="385.1" stroke="#444" stroke-width="0.8" />
<line x1="150.92" y1="375.4" x2="153.92" y2="375.4" stroke="#444" stroke-width="0.8" />
<line x1="150.92" y1="385.1" x2="153.92" y2="385.1" stroke="#444" stroke-width="0.8" />
<circle cx="152.42" cy="380.5" r="1.95" fill="#2f8f47" stroke="#1f4a2a" stroke-width="0.6"/>
<line x1="179.65" y1="409.8" x2="179.65" y2="415.6" stroke="#444" stroke-width="0.8" />
<line x1="178.15" y1="409.8" x2="181.15" y2="409.8" stroke="#444" stroke-width="0.8" />
<line x1="178.15" y1="415.6" x2="181.15" y2="415.6" stroke="#444" stroke-width="0.8" />
<circle cx="179.65" cy="412.8" r="1.95" fill="#2f8f47" stroke="#1f4a2a" stroke-width="0.6"/>
<line x1="206.88" y1="439.8" x2="206.88" y2="446" stroke="#444" stroke-width="0.8" />
<line x1="205.38" y1="439.8" x2="208.38" y2="439.8" stroke="#444" stroke-width="0.8" />
<line x1="205.38" y1="446" x2="208.38" y2="446" stroke="#444" stroke-width="0.8" />
<circle cx="206.88" cy="443.2" r="1.95" fill="#2f8f47" stroke="#1f4a2a" stroke-width="0.6"/>
<path d="M43.5,476.5 L46,481 L41,481Z" fill="#2356e0" stroke="#182a78" stroke-width="0.75" stroke-linejoin="round"/>
<path d="M62.56,471 L65.06,475.5 L60.06,475.5Z" fill="#2356e0" stroke="#182a78" stroke-width="0.75" stroke-linejoin="round"/>
<path d="M97.96,468 L100.46,472.5 L95.46,472.5Z" fill="#2356e0" stroke="#182a78" stroke-width="0.75" stroke-linejoin="round"/>
<path d="M125.19,466.4 L127.69,470.9 L122.69,470.9Z" fill="#2356e0" stroke="#182a78" stroke-width="0.75" stroke-linejoin="round"/>
<path d="M152.42,460.2 L154.92,464.7 L149.92,464.7Z" fill="#2356e0" stroke="#182a78" stroke-width="0.75" stroke-linejoin="round"/>
<path d="M179.65,440.3 L182.15,444.8 L177.15,444.8Z" fill="#2356e0" stroke="#182a78" stroke-width="0.75" stroke-linejoin="round"/>
<path d="M206.88,380.1 L209.38,384.6 L204.38,384.6Z" fill="#2356e0" stroke="#182a78" stroke-width="0.75" stroke-linejoin="round"/>
<rect x="38.2" y="351.1" width="174" height="139" fill="none" stroke="#454545" stroke-width="1.1"/>
<text x="43.5" y="505" font-size="11.5" text-anchor="middle" >0.0</text>
<text x="97.96" y="505" font-size="11.5" text-anchor="middle" >0.2</text>
<text x="152.42" y="505" font-size="11.5" text-anchor="middle" >0.4</text>
<text x="206.88" y="505" font-size="11.5" text-anchor="middle" >0.6</text>
<text x="33.6" y="494.3" font-size="11.5" text-anchor="end" >0</text>
<text x="33.6" y="472.85" font-size="11.5" text-anchor="end" >1</text>
<text x="33.6" y="451.4" font-size="11.5" text-anchor="end" >2</text>
<text x="33.6" y="429.95" font-size="11.5" text-anchor="end" >3</text>
<text x="33.6" y="408.5" font-size="11.5" text-anchor="end" >4</text>
<text x="33.6" y="387.05" font-size="11.5" text-anchor="end" >5</text>
<text x="33.6" y="365.6" font-size="11.5" text-anchor="end" >6</text>
<text x="125" y="520" font-size="14.6" text-anchor="middle" >Pressure (Pa)</text>
<text transform="translate(19,416) rotate(-90)" font-size="13.6" text-anchor="middle">E<tspan dy="3.6" font-size="8.6">ran</tspan><tspan dy="-3.6"> (eV)</tspan></text>
<text x="1" y="364.5" font-size="16.6" text-anchor="start" >(e)</text>
<rect x="95.4" y="405.8" width="71.3" height="41.6" fill="#fff" stroke="#959595" stroke-width="0.9"/>
<rect x="106.1" y="411.8" width="3.6" height="3.6" fill="#2a2a2a"/>
<text x="122" y="417.4" font-size="10.3" text-anchor="start" >Ti<tspan dy="-4.0" font-size="6.8">1+</tspan><tspan dy="4.0" word-spacing="-0.6"> - low</tspan></text>
<circle cx="107.9" cy="427.6" r="2.0" fill="#2f8f47"/>
<text x="122" y="431.4" font-size="10.3" text-anchor="start" >Ti<tspan dy="-4.0" font-size="6.8">1+</tspan><tspan dy="4.0" word-spacing="-0.6"> - mid</tspan></text>
<path d="M107.9,438.53 L110,442.31 L105.8,442.31Z" fill="#2356e0" stroke="#182a78" stroke-width="0.75" stroke-linejoin="round"/>
<text x="122" y="444.6" font-size="10.3" text-anchor="start" >Ti<tspan dy="-4.0" font-size="6.8">1+</tspan><tspan dy="4.0" word-spacing="-0.6"> - high</tspan></text>
<line x1="261.9" y1="490.5" x2="261.9" y2="493.5" stroke="#454545" stroke-width="0.9" />
<line x1="289.3" y1="490.5" x2="289.3" y2="492.5" stroke="#454545" stroke-width="0.9" />
<line x1="316.7" y1="490.5" x2="316.7" y2="493.5" stroke="#454545" stroke-width="0.9" />
<line x1="344.1" y1="490.5" x2="344.1" y2="492.5" stroke="#454545" stroke-width="0.9" />
<line x1="371.5" y1="490.5" x2="371.5" y2="493.5" stroke="#454545" stroke-width="0.9" />
<line x1="398.9" y1="490.5" x2="398.9" y2="492.5" stroke="#454545" stroke-width="0.9" />
<line x1="426.3" y1="490.5" x2="426.3" y2="493.5" stroke="#454545" stroke-width="0.9" />
<line x1="256.4" y1="490.7" x2="253.4" y2="490.7" stroke="#454545" stroke-width="0.9" />
<line x1="256.4" y1="479.95" x2="254.6" y2="479.95" stroke="#454545" stroke-width="0.9" />
<line x1="256.4" y1="469.2" x2="253.4" y2="469.2" stroke="#454545" stroke-width="0.9" />
<line x1="256.4" y1="458.45" x2="254.6" y2="458.45" stroke="#454545" stroke-width="0.9" />
<line x1="256.4" y1="447.7" x2="253.4" y2="447.7" stroke="#454545" stroke-width="0.9" />
<line x1="256.4" y1="436.95" x2="254.6" y2="436.95" stroke="#454545" stroke-width="0.9" />
<line x1="256.4" y1="426.2" x2="253.4" y2="426.2" stroke="#454545" stroke-width="0.9" />
<line x1="256.4" y1="415.45" x2="254.6" y2="415.45" stroke="#454545" stroke-width="0.9" />
<line x1="256.4" y1="404.7" x2="253.4" y2="404.7" stroke="#454545" stroke-width="0.9" />
<line x1="256.4" y1="393.95" x2="254.6" y2="393.95" stroke="#454545" stroke-width="0.9" />
<line x1="256.4" y1="383.2" x2="253.4" y2="383.2" stroke="#454545" stroke-width="0.9" />
<line x1="256.4" y1="372.45" x2="254.6" y2="372.45" stroke="#454545" stroke-width="0.9" />
<line x1="256.4" y1="361.7" x2="253.4" y2="361.7" stroke="#454545" stroke-width="0.9" />
<path d="M261.9,460.4 C263.25,461.58 266.82,465.57 270,467.5 C273.18,469.43 276,470.83 281,472 C286,473.17 291.83,473.98 300,474.5 C308.17,475.02 308.95,474.98 330,475.1 C351.05,475.22 410.25,475.18 426.3,475.2" fill="none" stroke="#444" stroke-width="1.0" stroke-linejoin="round" stroke-linecap="round" />
<path d="M261.9,395.7 C266.58,395.85 280.98,396.22 290,396.6 C299.02,396.98 309.33,397.52 316,398 C322.67,398.48 325.33,398.87 330,399.5 C334.67,400.13 339.33,400.92 344,401.8 C348.67,402.68 353.42,403.4 358,404.8 C362.58,406.2 366.83,408.07 371.5,410.2 C376.17,412.33 381.65,415 386,417.6 C390.35,420.2 393.72,422.68 397.6,425.8 C401.48,428.92 405.62,432.8 409.3,436.3 C412.98,439.8 416.92,444.08 419.7,446.8 C422.48,449.52 424.95,451.63 426,452.6" fill="none" stroke="#5aa96c" stroke-width="1.0" stroke-linejoin="round" stroke-linecap="round" />
<path d="M261.9,478.3 C268.25,478.08 286.32,477.5 300,477 C313.68,476.5 332.17,475.78 344,475.3 C355.83,474.82 364.17,474.68 371,474.1 C377.83,473.52 380.33,472.83 385,471.8 C389.67,470.77 394.33,469.7 399,467.9 C403.67,466.1 408.45,463.68 413,461 C417.55,458.32 424.08,453.33 426.3,451.8" fill="none" stroke="#4a7cf0" stroke-width="1.0" stroke-linejoin="round" stroke-linecap="round" />
<rect x="259.95" y="458.45" width="3.9" height="3.9" fill="#2a2a2a"/>
<line x1="281.08" y1="471.5" x2="281.08" y2="475" stroke="#444" stroke-width="0.8" />
<line x1="279.58" y1="471.5" x2="282.58" y2="471.5" stroke="#444" stroke-width="0.8" />
<line x1="279.58" y1="475" x2="282.58" y2="475" stroke="#444" stroke-width="0.8" />
<rect x="279.13" y="471.35" width="3.9" height="3.9" fill="#2a2a2a"/>
<rect x="314.75" y="472.25" width="3.9" height="3.9" fill="#2a2a2a"/>
<line x1="344.1" y1="472.5" x2="344.1" y2="476.5" stroke="#444" stroke-width="0.8" />
<line x1="342.6" y1="472.5" x2="345.6" y2="472.5" stroke="#444" stroke-width="0.8" />
<line x1="342.6" y1="476.5" x2="345.6" y2="476.5" stroke="#444" stroke-width="0.8" />
<rect x="342.15" y="472.65" width="3.9" height="3.9" fill="#2a2a2a"/>
<line x1="371.5" y1="475" x2="371.5" y2="478.5" stroke="#444" stroke-width="0.8" />
<line x1="370" y1="475" x2="373" y2="475" stroke="#444" stroke-width="0.8" />
<line x1="370" y1="478.5" x2="373" y2="478.5" stroke="#444" stroke-width="0.8" />
<rect x="369.55" y="474.65" width="3.9" height="3.9" fill="#2a2a2a"/>
<rect x="396.95" y="473.95" width="3.9" height="3.9" fill="#2a2a2a"/>
<line x1="426.3" y1="477.5" x2="426.3" y2="481.2" stroke="#444" stroke-width="0.8" />
<line x1="424.8" y1="477.5" x2="427.8" y2="477.5" stroke="#444" stroke-width="0.8" />
<line x1="424.8" y1="481.2" x2="427.8" y2="481.2" stroke="#444" stroke-width="0.8" />
<rect x="424.35" y="477.45" width="3.9" height="3.9" fill="#2a2a2a"/>
<line x1="261.9" y1="390.6" x2="261.9" y2="395.2" stroke="#444" stroke-width="0.8" />
<line x1="260.4" y1="390.6" x2="263.4" y2="390.6" stroke="#444" stroke-width="0.8" />
<line x1="260.4" y1="395.2" x2="263.4" y2="395.2" stroke="#444" stroke-width="0.8" />
<circle cx="261.9" cy="392.9" r="1.95" fill="#2f8f47" stroke="#1f4a2a" stroke-width="0.6"/>
<line x1="281.08" y1="401.4" x2="281.08" y2="412.2" stroke="#444" stroke-width="0.8" />
<line x1="279.58" y1="401.4" x2="282.58" y2="401.4" stroke="#444" stroke-width="0.8" />
<line x1="279.58" y1="412.2" x2="282.58" y2="412.2" stroke="#444" stroke-width="0.8" />
<circle cx="281.08" cy="406.7" r="1.95" fill="#2f8f47" stroke="#1f4a2a" stroke-width="0.6"/>
<line x1="316.7" y1="392.9" x2="316.7" y2="412.2" stroke="#444" stroke-width="0.8" />
<line x1="315.2" y1="392.9" x2="318.2" y2="392.9" stroke="#444" stroke-width="0.8" />
<line x1="315.2" y1="412.2" x2="318.2" y2="412.2" stroke="#444" stroke-width="0.8" />
<circle cx="316.7" cy="402.5" r="1.95" fill="#2f8f47" stroke="#1f4a2a" stroke-width="0.6"/>
<line x1="344.1" y1="397.2" x2="344.1" y2="405.2" stroke="#444" stroke-width="0.8" />
<line x1="342.6" y1="397.2" x2="345.6" y2="397.2" stroke="#444" stroke-width="0.8" />
<line x1="342.6" y1="405.2" x2="345.6" y2="405.2" stroke="#444" stroke-width="0.8" />
<circle cx="344.1" cy="401.3" r="1.95" fill="#2f8f47" stroke="#1f4a2a" stroke-width="0.6"/>
<line x1="371.5" y1="408.3" x2="371.5" y2="419.7" stroke="#444" stroke-width="0.8" />
<line x1="370" y1="408.3" x2="373" y2="408.3" stroke="#444" stroke-width="0.8" />
<line x1="370" y1="419.7" x2="373" y2="419.7" stroke="#444" stroke-width="0.8" />
<circle cx="371.5" cy="414.1" r="1.95" fill="#2f8f47" stroke="#1f4a2a" stroke-width="0.6"/>
<line x1="398.9" y1="396.1" x2="398.9" y2="416.7" stroke="#444" stroke-width="0.8" />
<line x1="397.4" y1="396.1" x2="400.4" y2="396.1" stroke="#444" stroke-width="0.8" />
<line x1="397.4" y1="416.7" x2="400.4" y2="416.7" stroke="#444" stroke-width="0.8" />
<circle cx="398.9" cy="406.4" r="1.95" fill="#2f8f47" stroke="#1f4a2a" stroke-width="0.6"/>
<line x1="426.3" y1="451.8" x2="426.3" y2="462.6" stroke="#444" stroke-width="0.8" />
<line x1="424.8" y1="451.8" x2="427.8" y2="451.8" stroke="#444" stroke-width="0.8" />
<line x1="424.8" y1="462.6" x2="427.8" y2="462.6" stroke="#444" stroke-width="0.8" />
<circle cx="426.3" cy="457.3" r="1.95" fill="#2f8f47" stroke="#1f4a2a" stroke-width="0.6"/>
<path d="M261.9,476.8 L264.4,481.3 L259.4,481.3Z" fill="#2356e0" stroke="#182a78" stroke-width="0.75" stroke-linejoin="round"/>
<path d="M281.08,474.5 L283.58,479 L278.58,479Z" fill="#2356e0" stroke="#182a78" stroke-width="0.75" stroke-linejoin="round"/>
<path d="M316.7,473.5 L319.2,478 L314.2,478Z" fill="#2356e0" stroke="#182a78" stroke-width="0.75" stroke-linejoin="round"/>
<path d="M344.1,471.5 L346.6,476 L341.6,476Z" fill="#2356e0" stroke="#182a78" stroke-width="0.75" stroke-linejoin="round"/>
<path d="M371.5,471.4 L374,475.9 L369,475.9Z" fill="#2356e0" stroke="#182a78" stroke-width="0.75" stroke-linejoin="round"/>
<path d="M398.9,466.3 L401.4,470.8 L396.4,470.8Z" fill="#2356e0" stroke="#182a78" stroke-width="0.75" stroke-linejoin="round"/>
<path d="M426.3,448.7 L428.8,453.2 L423.8,453.2Z" fill="#2356e0" stroke="#182a78" stroke-width="0.75" stroke-linejoin="round"/>
<rect x="256.4" y="350.5" width="174.6" height="140" fill="none" stroke="#454545" stroke-width="1.1"/>
<text x="261.9" y="505.1" font-size="11.5" text-anchor="middle" >0.0</text>
<text x="316.7" y="505.1" font-size="11.5" text-anchor="middle" >0.2</text>
<text x="371.5" y="505.1" font-size="11.5" text-anchor="middle" >0.4</text>
<text x="426.3" y="505.1" font-size="11.5" text-anchor="middle" >0.6</text>
<text x="251.8" y="494.7" font-size="11.5" text-anchor="end" >0</text>
<text x="251.8" y="473.2" font-size="11.5" text-anchor="end" >1</text>
<text x="251.8" y="451.7" font-size="11.5" text-anchor="end" >2</text>
<text x="251.8" y="430.2" font-size="11.5" text-anchor="end" >3</text>
<text x="251.8" y="408.7" font-size="11.5" text-anchor="end" >4</text>
<text x="251.8" y="387.2" font-size="11.5" text-anchor="end" >5</text>
<text x="251.8" y="365.7" font-size="11.5" text-anchor="end" >6</text>
<text x="344.6" y="519.6" font-size="14.6" text-anchor="middle" >Pressure (Pa)</text>
<text transform="translate(239.3,418.3) rotate(-90)" font-size="13.6" text-anchor="middle">E<tspan dy="3.6" font-size="8.6">ran</tspan><tspan dy="-3.6"> (eV)</tspan></text>
<text x="220.3" y="364.6" font-size="16.6" text-anchor="start" >(f)</text>
<rect x="358.4" y="351" width="73" height="42.2" fill="#fff" stroke="#959595" stroke-width="0.9"/>
<rect x="368.9" y="357.7" width="3.6" height="3.6" fill="#2a2a2a"/>
<text x="384.6" y="363.3" font-size="10.3" text-anchor="start" >Al<tspan dy="-4.0" font-size="6.8">1+</tspan><tspan dy="4.0" word-spacing="-0.6"> - low</tspan></text>
<circle cx="370.7" cy="373.1" r="2.0" fill="#2f8f47"/>
<text x="384.6" y="376.9" font-size="10.3" text-anchor="start" >Al<tspan dy="-4.0" font-size="6.8">1+</tspan><tspan dy="4.0" word-spacing="-0.6"> - mid</tspan></text>
<path d="M370.7,384.53 L372.8,388.31 L368.6,388.31Z" fill="#2356e0" stroke="#182a78" stroke-width="0.75" stroke-linejoin="round"/>
<text x="384.6" y="390.6" font-size="10.3" text-anchor="start" >Al<tspan dy="-4.0" font-size="6.8">1+</tspan><tspan dy="4.0" word-spacing="-0.6"> - high</tspan></text>
</svg>
</body></html>
